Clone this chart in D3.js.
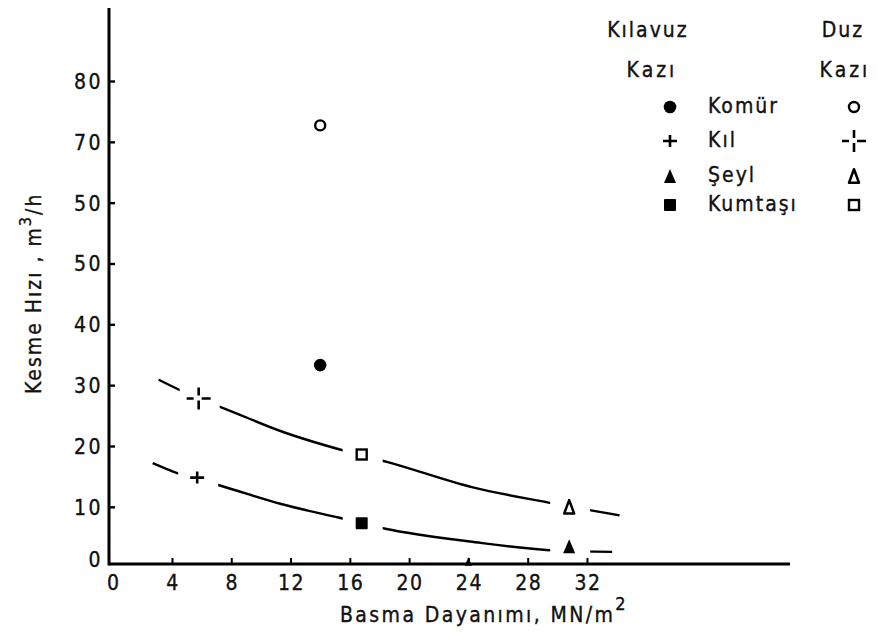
<!DOCTYPE html>
<html>
<head>
<meta charset="utf-8">
<script src="https://cdn.jsdelivr.net/npm/d3@7"></script>
<style>
  html, body { margin: 0; padding: 0; background: #fff; }
  svg { display: block; }
  text { font-family: 'DejaVu Sans Condensed', 'DejaVu Sans', sans-serif; fill: #111; stroke: #111; stroke-width: 0.35px; }
</style>
</head>
<body>
<svg id="chart" width="877" height="636"></svg>
<script>
// ---------- data ----------
const xTickValues = [0, 4, 8, 12, 16, 20, 24, 28, 32];
const xTickLabels = ["0", "4", "8", "12", "16", "20", "24", "28", "32"];
const yTickValues = [0, 10, 20, 30, 40, 50, 60, 70, 80];
const yTickLabels = ["0", "10", "20", "30", "40", "50", "50", "70", "80"];

const materials = ["Komür", "Kıl", "Şeyl", "Kumtaşı"];
// Kılavuz kazı (filled / plain markers): [strength, rate]
const kilavuzKomur = [[14, 33.3]];
const kilavuzKil = [[5.7, 14.8]];
const kilavuzSeyl = [[30.8, 3.5], [24, 1.0]];
const kilavuzKumtasi = [[16.8, 7.3]];
// Düz kazı (open markers)
const duzKomur = [[14, 72.7]];
const duzKil = [[5.8, 27.8]];
const duzSeyl = [[30.8, 10.0]];
const duzKumtasi = [[16.8, 18.6]];

// fitted curves
const curveDuz = [[3.1, 30.9], [4.7, 29.0], [5.8, 27.8], [7.5, 26.2], [11.5, 22.3], [15.8, 19.1],
                  [18.5, 17.4], [24.3, 13.2], [29.4, 10.7], [34.2, 8.6]];
const curveKilavuz = [[2.7, 17.2], [4.4, 15.5], [7.5, 13.3], [11.3, 10.5], [15.3, 8.2],
                      [18.4, 6.4], [24.1, 4.3], [29.9, 2.8], [33.7, 2.6]];

const xTitle = "Basma Dayanımı, MN/m";
const yTitle = "Kesme Hızı , m";

// ---------- layout ----------
const svg = d3.select("#chart");
const x = d3.scaleLinear().domain([-0.25, 45.7]).range([109, 790]);
const y = d3.scaleLinear().domain([0.6, 92]).range([564, 8]);
const FS = 21;

// ---------- markers ----------
function triPath(w, h) { return `M0,${-h/2}L${w/2},${h/2}L${-w/2},${h/2}Z`; }
function drawMarker(g, type, px, py, s = 1) {
  const m = g.append("g").attr("transform", `translate(${px},${py}) scale(${s})`);
  if (type === "fcircle") m.append("circle").attr("r", 6.3).attr("fill", "#000");
  if (type === "ocircle") m.append("circle").attr("r", 5).attr("fill", "#fff").attr("stroke", "#000").attr("stroke-width", 2.4);
  if (type === "fsquare") m.append("rect").attr("x", -6).attr("y", -6).attr("width", 12).attr("height", 12).attr("rx", 1).attr("fill", "#000");
  if (type === "osquare") m.append("rect").attr("x", -5).attr("y", -5).attr("width", 10).attr("height", 10).attr("fill", "#fff").attr("stroke", "#000").attr("stroke-width", 2.4);
  if (type === "ftri") m.append("path").attr("d", triPath(12, 14)).attr("fill", "#000");
  if (type === "otri") m.append("path").attr("d", triPath(10, 13.5)).attr("fill", "#fff").attr("stroke", "#000").attr("stroke-width", 2.5).attr("stroke-linejoin", "round");
  if (type === "plus") {
    m.append("path").attr("d", "M-7,0H7M0,-6V6").attr("stroke", "#000").attr("stroke-width", 2.6).attr("fill", "none");
  }
  if (type === "dplus") {
    m.append("path").attr("d", "M-12,0H-5M3,0H12M0,-11V-3M0,2V11").attr("stroke", "#000").attr("stroke-width", 2.6).attr("fill", "none");
  }
}

// ---------- curves with gaps around markers ----------
const defs = svg.append("defs");
const mask = defs.append("mask").attr("id", "gapmask").attr("maskUnits", "userSpaceOnUse")
  .attr("x", 0).attr("y", 0).attr("width", 877).attr("height", 636);
mask.append("rect").attr("width", 877).attr("height", 636).attr("fill", "#fff");
const gapPoints = [...duzKil, ...duzKumtasi, ...duzSeyl, ...kilavuzKil, ...kilavuzKumtasi, ...kilavuzSeyl.slice(0, 1)];
gapPoints.forEach(p => {
  mask.append("rect").attr("x", x(p[0]) - 19).attr("y", y(p[1]) - 14).attr("width", 40).attr("height", 28).attr("fill", "#000");
});

const line = d3.line().x(d => x(d[0])).y(d => y(d[1])).curve(d3.curveMonotoneX);
[curveDuz, curveKilavuz].forEach(c => {
  svg.append("path").attr("d", line(c)).attr("fill", "none").attr("stroke", "#000")
    .attr("stroke-width", 2.4).attr("mask", "url(#gapmask)");
});

// ---------- axes ----------
const xAxisG = svg.append("g").attr("transform", `translate(0,${y(0.6)})`)
  .call(d3.axisTop(x).tickValues(xTickValues.slice(1)).tickSize(6).tickFormat(""));
xAxisG.select(".domain").remove();
xAxisG.selectAll(".tick line").attr("stroke", "#000").attr("stroke-width", 2);
svg.append("line").attr("x1", x(-0.25)).attr("x2", x(45.7)).attr("y1", y(0.6)).attr("y2", y(0.6))
  .attr("stroke", "#000").attr("stroke-width", 3);

svg.selectAll(".xlab").data(xTickValues).join("text")
  .attr("class", "xlab")
  .attr("x", d => x(d) + 1).attr("y", 590)
  .attr("text-anchor", "middle").attr("font-size", FS).attr("letter-spacing", 1.5)
  .text((d, i) => xTickLabels[i]);

const yAxisG = svg.append("g").attr("transform", `translate(${x(-0.25)},0)`)
  .call(d3.axisRight(y).tickValues(yTickValues.slice(1)).tickSize(6).tickFormat(""));
yAxisG.select(".domain").remove();
yAxisG.selectAll(".tick line").attr("stroke", "#000").attr("stroke-width", 2.4);
svg.append("line").attr("x1", x(-0.25)).attr("x2", x(-0.25)).attr("y1", y(92)).attr("y2", y(0.6) + 1.5)
  .attr("stroke", "#000").attr("stroke-width", 3);

svg.selectAll(".ylab").data(yTickValues).join("text")
  .attr("class", "ylab")
  .attr("x", 103).attr("y", d => d === 0 ? y(d) - 1 : y(d) + 8)
  .attr("text-anchor", "end").attr("font-size", FS).attr("letter-spacing", 2.5)
  .text((d, i) => yTickLabels[i]);

// ---------- titles ----------
const xt = svg.append("text").attr("x", 340).attr("y", 622).attr("font-size", FS).attr("letter-spacing", 2.4);
xt.append("tspan").text(xTitle);
xt.append("tspan").attr("dy", -12).attr("font-size", 18).text("2");

const yt = svg.append("text").attr("transform", "translate(41,394) rotate(-90)")
  .attr("font-size", FS).attr("letter-spacing", 2.0);
yt.append("tspan").text(yTitle);
yt.append("tspan").attr("dy", -10).attr("font-size", 16).text("3");
yt.append("tspan").attr("dy", 10).text("/h");

// ---------- data markers ----------
const pts = svg.append("g");
kilavuzKomur.forEach(p => drawMarker(pts, "fcircle", x(p[0]), y(p[1])));
kilavuzKil.forEach(p => drawMarker(pts, "plus", x(p[0]), y(p[1])));
kilavuzSeyl.forEach((p, i) => drawMarker(pts, "ftri", x(p[0]), y(p[1]), i === 0 ? 1 : 0.6));
kilavuzKumtasi.forEach(p => drawMarker(pts, "fsquare", x(p[0]), y(p[1])));
duzKomur.forEach(p => drawMarker(pts, "ocircle", x(p[0]), y(p[1])));
duzKil.forEach(p => drawMarker(pts, "dplus", x(p[0]), y(p[1])));
duzSeyl.forEach(p => drawMarker(pts, "otri", x(p[0]), y(p[1])));
duzKumtasi.forEach(p => drawMarker(pts, "osquare", x(p[0]), y(p[1])));

// ---------- legend ----------
const lg = svg.append("g");
lg.append("text").attr("x", 648).attr("y", 37).attr("text-anchor", "middle").attr("font-size", FS).attr("letter-spacing", 2).text("Kılavuz");
lg.append("text").attr("x", 652).attr("y", 77).attr("text-anchor", "middle").attr("font-size", FS).attr("letter-spacing", 3).text("Kazı");
lg.append("text").attr("x", 843).attr("y", 37).attr("text-anchor", "middle").attr("font-size", FS).attr("letter-spacing", 2).text("Duz");
lg.append("text").attr("x", 845).attr("y", 77).attr("text-anchor", "middle").attr("font-size", FS).attr("letter-spacing", 3).text("Kazı");
const legendRowY = [105, 139, 174, 203];
const leftTypes = ["fcircle", "plus", "ftri", "fsquare"];
const rightTypes = ["ocircle", "dplus", "otri", "osquare"];
materials.forEach((m, i) => {
  drawMarker(lg, leftTypes[i], 670, legendRowY[i] + 2);
  drawMarker(lg, rightTypes[i], 854, legendRowY[i] + 2);
  lg.append("text").attr("x", 708).attr("y", legendRowY[i] + 8).attr("font-size", FS).attr("letter-spacing", 2).text(m);
});
</script>
</body>
</html>
